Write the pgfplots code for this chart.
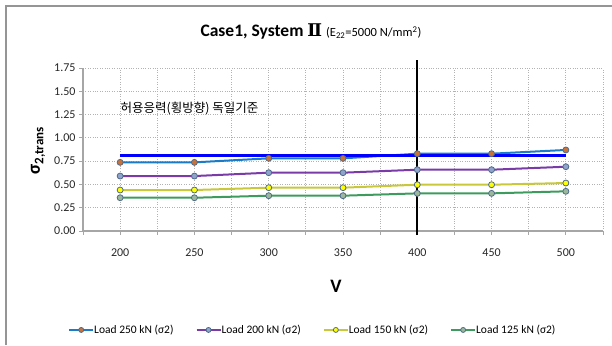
\documentclass[border=0pt]{standalone}
\usepackage{fontspec}
\setmainfont{Carlito}
\newfontfamily\kr{Noto Sans CJK KR}
\newfontfamily\dserif{DejaVu Serif}
\usepackage{pgfplots}
\pgfplotsset{compat=1.18}
\definecolor{cA}{HTML}{1A7CC8}
\definecolor{cAf}{HTML}{C8733A}
\definecolor{cB}{HTML}{7A3AA8}
\definecolor{cBf}{HTML}{8FA3CB}
\definecolor{cC}{HTML}{C8C83A}
\definecolor{cCf}{HTML}{FFFF00}
\definecolor{cD}{HTML}{3E9B5E}
\definecolor{cDf}{HTML}{9CB89C}
\definecolor{medge}{HTML}{4F6B8A}
\definecolor{axgray}{HTML}{A6A6A6}
\pgfplotsset{mk/.style={mark=*, mark size=3pt, mark options={draw=medge, line width=0.8pt, solid, fill=#1}}}
\begin{document}
\begin{tikzpicture}[x=1pt,y=1pt]
\useasboundingbox (0,0) rectangle (612,345);
\draw[axgray!90!black, line width=1.2pt] (6,0) -- (6,339) -- (612,339);
\node at (311,313) {\fontsize{17.5}{18}\selectfont\bfseries Case1, System {\dserif Ⅱ}\ {\mdseries\fontsize{12.5}{13}\selectfont (E\textsubscript{22}=5000 N/mm\textsuperscript{2})}};
\node[rotate=90] at (38,194) {\bfseries\fontsize{18.5}{19}\selectfont σ\raisebox{-3.5pt}{\fontsize{13}{13}\selectfont 2,trans}};
\node at (336,59) {\bfseries\fontsize{19}{20}\selectfont V};
\begin{axis}[
  at={(83pt,114pt)}, anchor=south west,
  scale only axis, width=520pt, height=163pt,
  xmin=175, xmax=525, ymin=0, ymax=1.75,
  clip=false,
  axis x line*=bottom, axis y line*=left,
  axis line style={axgray, line width=1.2pt, -},
  xtick={200,250,...,500},
  minor xtick={175,225,...,525},
  ytick={0,0.25,...,1.75},
  yticklabel style={/pgf/number format/fixed, /pgf/number format/fixed zerofill, /pgf/number format/precision=2},
  /pgf/number format/assume math mode=true,
  ticklabel style={font=\fontsize{12}{13}\selectfont, text=black!85},
  xticklabel style={yshift=-10pt},
  tick align=outside,
  major tick length=4pt, minor tick length=4pt,
  tick style={axgray, line width=0.8pt},
  grid=both,
  major grid style={black!30, dotted, line width=0.8pt},
  minor grid style={black!30, dotted, line width=0.8pt},
  legend columns=4,
  legend style={at={(0.442,-0.607)}, anchor=center, draw=none, fill=none,
    font=\fontsize{11.5}{12}\selectfont, /tikz/every even column/.append style={column sep=20pt},
    /tikz/every odd column/.append style={column sep=-2pt}},
  legend image code/.code={
    \draw[#1, mark=none] (0pt,0pt) -- (24pt,0pt);
    \draw[#1, only marks, mark size=2.5pt] plot coordinates {(12pt,0pt)};
  },
  every axis plot/.append style={line width=2pt},
]
\addplot[cA, mk=cAf] coordinates {(200,0.737)(250,0.737)(300,0.78)(350,0.78)(400,0.83)(450,0.83)(500,0.87)};
\addlegendentry{Load 250 kN (σ2)}
\addplot[cB, mk=cBf] coordinates {(200,0.59)(250,0.59)(300,0.626)(350,0.626)(400,0.658)(450,0.658)(500,0.69)};
\addlegendentry{Load 200 kN (σ2)}
\addplot[cC, mk=cCf] coordinates {(200,0.44)(250,0.44)(300,0.465)(350,0.465)(400,0.497)(450,0.497)(500,0.515)};
\addlegendentry{Load 150 kN (σ2)}
\addplot[cD, mk=cDf] coordinates {(200,0.357)(250,0.357)(300,0.379)(350,0.379)(400,0.404)(450,0.404)(500,0.426)};
\addlegendentry{Load 125 kN (σ2)}
\addplot[blue, line width=3.5pt, mark=none, forget plot] coordinates {(200,0.81)(500,0.81)};
\draw[black, line width=1.6pt] (axis cs:400,-0.045) -- (axis cs:400,1.84);
\node[anchor=west, font=\kr\fontsize{12.5}{13}\selectfont] at (axis cs:198,1.32) {허용응력(횡방향) 독일기준};
\end{axis}
\end{tikzpicture}
\end{document}
